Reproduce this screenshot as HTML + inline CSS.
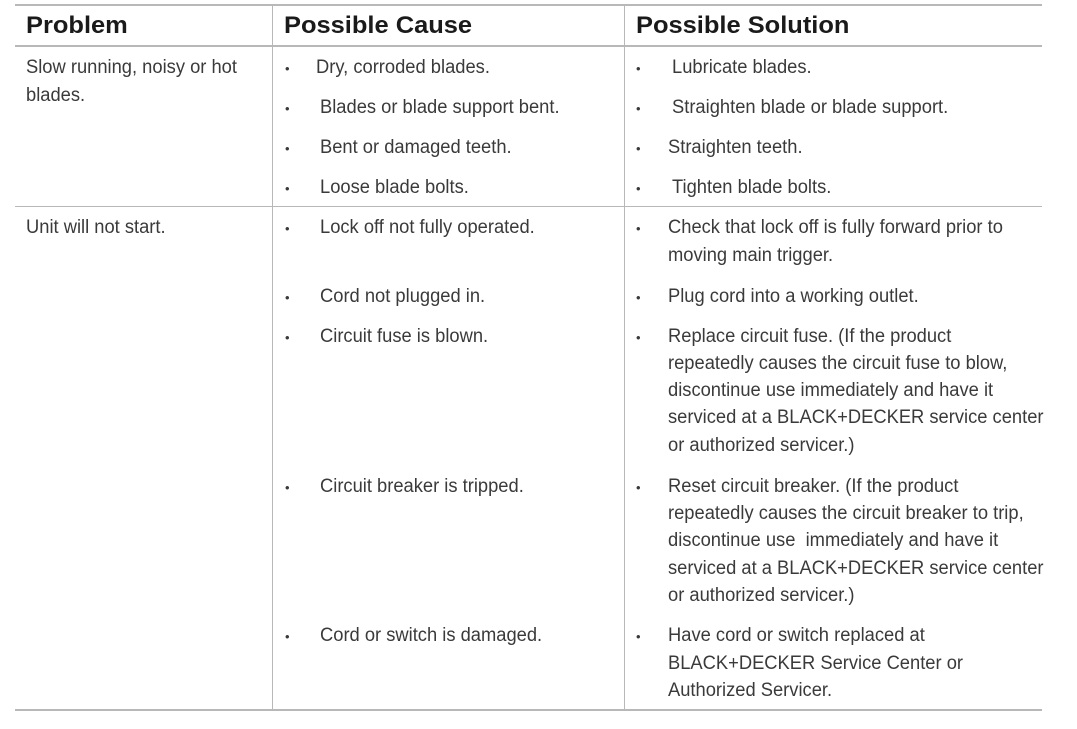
<!DOCTYPE html>
<html><head><meta charset="utf-8"><style>
body{margin:0;width:1077px;height:729px;background:#fff;position:relative;overflow:hidden;font-family:"Liberation Sans",sans-serif;color:#3a3a3a}
.h{position:absolute;height:1px;background:#b8b8b8}
.v{position:absolute;width:1px;background:#b8b8b8;top:4px;height:707px}
.t{position:absolute;font-size:19px;line-height:24px;white-space:nowrap;transform:scaleX(0.965);transform-origin:0 50%}
.b{position:absolute;font-size:13px;line-height:24px}
.hd{position:absolute;top:12px;font-size:24px;font-weight:bold;color:#1a1a1a;line-height:28px;transform:scaleX(1.06);transform-origin:0 50%}
</style></head><body>
<div class="h" style="left:15px;width:1027px;top:4px;height:2px"></div>
<div class="h" style="left:15px;width:1027px;top:45px;height:2px"></div>
<div class="h" style="left:15px;width:1027px;top:206px"></div>
<div class="h" style="left:15px;width:1027px;top:709px;height:2px"></div>
<div class="v" style="left:272px"></div>
<div class="v" style="left:624px"></div>
<div class="hd" style="left:26px">Problem</div>
<div class="hd" style="left:284px">Possible Cause</div>
<div class="hd" style="left:636px">Possible Solution</div>

<div class="t" style="left:26px;top:56px">Slow running, noisy or hot</div>
<div class="t" style="left:26px;top:84px">blades.</div>
<div class="t" style="left:26px;top:216px">Unit will not start.</div>

<div class="b" style="left:285px;top:57px">•</div><div class="t" style="left:316px;top:56px">Dry, corroded blades.</div>
<div class="b" style="left:285px;top:97px">•</div><div class="t" style="left:320px;top:96px">Blades or blade support bent.</div>
<div class="b" style="left:285px;top:137px">•</div><div class="t" style="left:320px;top:136px">Bent or damaged teeth.</div>
<div class="b" style="left:285px;top:177px">•</div><div class="t" style="left:320px;top:176px">Loose blade bolts.</div>
<div class="b" style="left:285px;top:217px">•</div><div class="t" style="left:320px;top:216px">Lock off not fully operated.</div>
<div class="b" style="left:285px;top:286px">•</div><div class="t" style="left:320px;top:285px">Cord not plugged in.</div>
<div class="b" style="left:285px;top:326px">•</div><div class="t" style="left:320px;top:325px">Circuit fuse is blown.</div>
<div class="b" style="left:285px;top:476px">•</div><div class="t" style="left:320px;top:475px">Circuit breaker is tripped.</div>
<div class="b" style="left:285px;top:625px">•</div><div class="t" style="left:320px;top:624px">Cord or switch is damaged.</div>

<div class="b" style="left:636px;top:57px">•</div><div class="t" style="left:672px;top:56px">Lubricate blades.</div>
<div class="b" style="left:636px;top:97px">•</div><div class="t" style="left:672px;top:96px">Straighten blade or blade support.</div>
<div class="b" style="left:636px;top:137px">•</div><div class="t" style="left:668px;top:136px">Straighten teeth.</div>
<div class="b" style="left:636px;top:177px">•</div><div class="t" style="left:672px;top:176px">Tighten blade bolts.</div>
<div class="b" style="left:636px;top:217px">•</div><div class="t" style="left:668px;top:216px">Check that lock off is fully forward prior to</div>
<div class="t" style="left:668px;top:244px">moving main trigger.</div>
<div class="b" style="left:636px;top:286px">•</div><div class="t" style="left:668px;top:285px">Plug cord into a working outlet.</div>
<div class="b" style="left:636px;top:326px">•</div><div class="t" style="left:668px;top:325px">Replace circuit fuse. (If the product</div>
<div class="t" style="left:668px;top:352px">repeatedly causes the circuit fuse to blow,</div>
<div class="t" style="left:668px;top:379px">discontinue use immediately and have it</div>
<div class="t" style="left:668px;top:406px">serviced at a BLACK+DECKER service center</div>
<div class="t" style="left:668px;top:434px">or authorized servicer.)</div>
<div class="b" style="left:636px;top:476px">•</div><div class="t" style="left:668px;top:475px">Reset circuit breaker. (If the product</div>
<div class="t" style="left:668px;top:502px">repeatedly causes the circuit breaker to trip,</div>
<div class="t" style="left:668px;top:529px">discontinue use&nbsp; immediately and have it</div>
<div class="t" style="left:668px;top:557px">serviced at a BLACK+DECKER service center</div>
<div class="t" style="left:668px;top:584px">or authorized servicer.)</div>
<div class="b" style="left:636px;top:625px">•</div><div class="t" style="left:668px;top:624px">Have cord or switch replaced at</div>
<div class="t" style="left:668px;top:652px">BLACK+DECKER Service Center or</div>
<div class="t" style="left:668px;top:679px">Authorized Servicer.</div>
</body></html>
